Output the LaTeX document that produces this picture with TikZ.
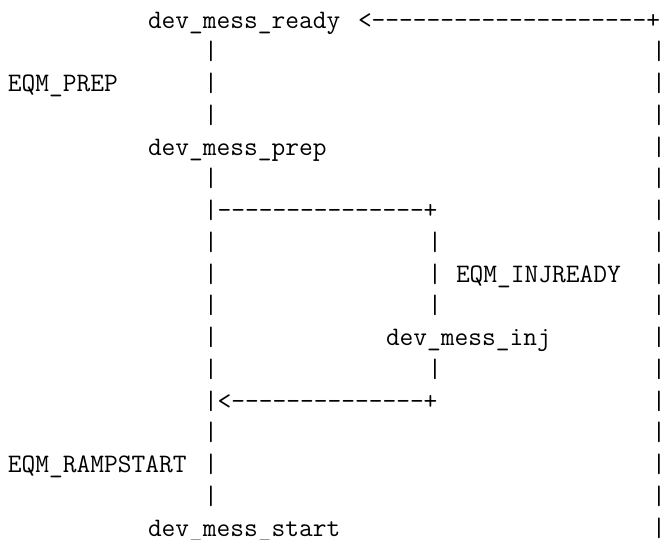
\documentclass[tikz,border=0pt]{standalone}
\usepackage{fontspec}

% a run of hyphens, kept apart so that no ligature joins them
\newcount\dashcount
\newcommand\dashrun[1]{\dashcount=0\relax\loop\ifnum\dashcount<#1 -\kern0pt\advance\dashcount by 1\relax\repeat}

\tikzset{
  tt/.style={anchor=base west, inner sep=0pt, outer sep=0pt,
    font=\ttfamily\fontsize{26.667pt}{31.75pt}\selectfont},
}

\begin{document}
\begin{tikzpicture}[x=1pt,y=1pt]
\useasboundingbox (0,0) rectangle (661,-539);
% character grid: one unit = one column / one text row
\begin{scope}[x=14pt,y=-31.75pt,shift={(8pt,-28.2pt)}]
  % states and labels
  \node[tt] (ready) at (10,0) {dev\_mess\_ready};
  \node[tt] (lprep) at (0,2) {EQM\_PREP};
  \node[tt] (prep)  at (10,4) {dev\_mess\_prep};
  \node[tt] (linj)  at (32,8) {EQM\_INJREADY};
  \node[tt] (inj)   at (27,10) {dev\_mess\_inj};
  \node[tt] (lramp) at (0,14) {EQM\_RAMPSTART};
  \node[tt] (start) at (10,16) {dev\_mess\_start};
  % horizontal runs
  \node[tt] (back)  at (25,0) {<\dashrun{20}+};
  \node[tt] (split) at (14,6) {|\dashrun{15}+};
  \node[tt] (join)  at (14,12) {|<\dashrun{14}+};
  % vertical runs
  \foreach \r in {1,2,3,5,7,8,9,10,11,13,14,15}
    \node[tt] (lp\r) at (14,\r) {|};
  \foreach \r in {7,8,9,11}
    \node[tt] (mp\r) at (30,\r) {|};
  \foreach \r in {1,...,16}
    \node[tt] (rp\r) at (46,\r) {|};
\end{scope}
\end{tikzpicture}
\end{document}
